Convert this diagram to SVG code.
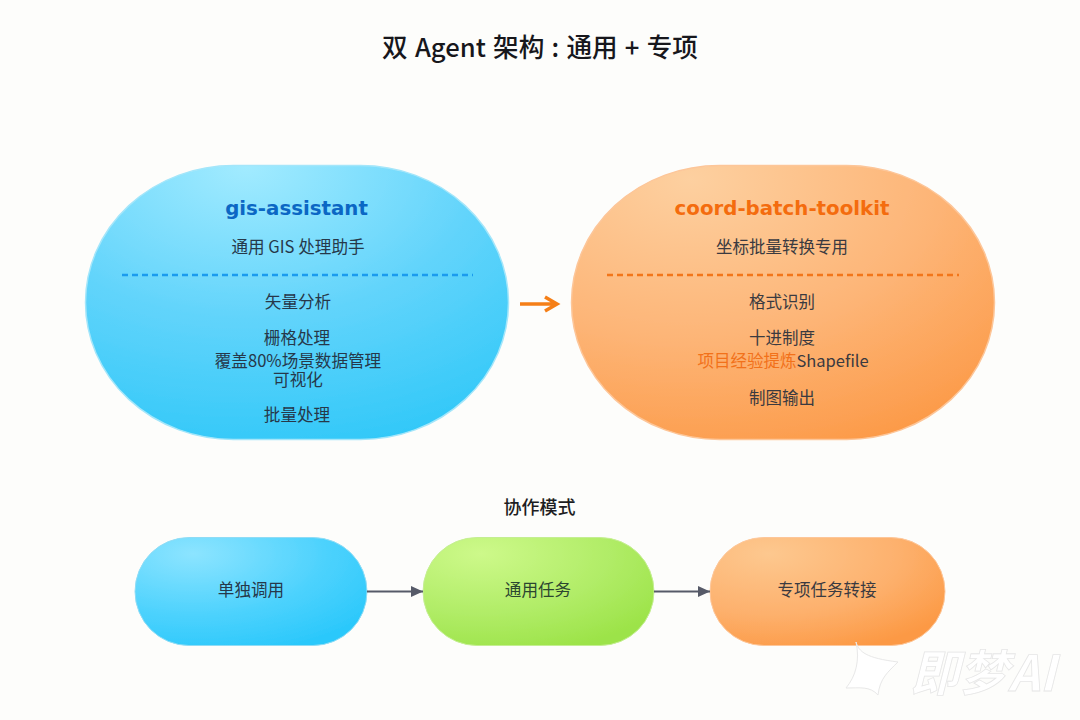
<svg xmlns="http://www.w3.org/2000/svg" width="1080" height="720" viewBox="0 0 1080 720">
<defs>
<radialGradient id="blue" gradientUnits="objectBoundingBox" cx="0.38" cy="0" r="1.1"><stop offset="0" stop-color="#a2ebff"/><stop offset="0.5" stop-color="#62d4fb"/><stop offset="1" stop-color="#2dc7f8"/></radialGradient>
<radialGradient id="orange" gradientUnits="objectBoundingBox" cx="0.28" cy="0.05" r="1.05"><stop offset="0" stop-color="#fdd0a0"/><stop offset="0.55" stop-color="#fdb577"/><stop offset="1" stop-color="#fc9a48"/></radialGradient>
<radialGradient id="blue2" gradientUnits="objectBoundingBox" cx="0.25" cy="0.15" r="0.95"><stop offset="0" stop-color="#8ce4ff"/><stop offset="0.6" stop-color="#4dd2fd"/><stop offset="1" stop-color="#2bc8fb"/></radialGradient>
<radialGradient id="green" gradientUnits="objectBoundingBox" cx="0.25" cy="0.15" r="0.95"><stop offset="0" stop-color="#cdf98a"/><stop offset="0.6" stop-color="#b0ec66"/><stop offset="1" stop-color="#9ce348"/></radialGradient>
<radialGradient id="orange2" gradientUnits="objectBoundingBox" cx="0.25" cy="0.15" r="0.95"><stop offset="0" stop-color="#fdc88f"/><stop offset="0.6" stop-color="#fdb06c"/><stop offset="1" stop-color="#fc9944"/></radialGradient>
<filter id="soft" x="-2%" y="-2%" width="104%" height="104%"><feGaussianBlur stdDeviation="0.7"/></filter>
<marker id="grey" markerUnits="userSpaceOnUse" markerWidth="12" markerHeight="12" refX="12" refY="6" orient="auto"><path d="M0 0.5L12 6L0 11.5Z" fill="#565a68"/></marker>
</defs>
<style>
text{font-family:"Noto Sans CJK SC","Noto Sans",sans-serif;text-anchor:middle}
.t{font-size:16.600px;fill:#26384a}
.o{font-size:16.500px;fill:#3a3a40}
.h{font-family:"DejaVu Sans","Noto Sans CJK SC",sans-serif;font-weight:700;font-size:19.800px}
</style>
<rect width="1080" height="720" fill="#fdfdfb"/>
<text x="540" y="57" font-size="25.600" font-weight="500" fill="#17171c" word-spacing="1.500">双 Agent 架构 : 通用 + 专项</text>
<g id="gis-assistant">
<rect x="85.500" y="165.500" width="423" height="274" rx="148" ry="137" fill="url(#blue)" stroke="#a4e6fa" stroke-width="1.500" filter="url(#soft)"/>
<text class="h" x="296.500" y="215" fill="#0b67c4">gis-assistant</text>
<text class="t" x="298" y="253">通用 GIS 处理助手</text>
<line x1="122" y1="275" x2="473" y2="275" stroke="#1b9bee" stroke-width="2.500" stroke-dasharray="6 4"/>
<text class="t" x="298" y="308">矢量分析</text>
<text class="t" x="297" y="344">栅格处理</text>
<text class="t" x="298" y="367">覆盖80%场景数据管理</text>
<text class="t" x="298" y="386">可视化</text>
<text class="t" x="297" y="421">批量处理</text>
</g>
<g id="coord-batch-toolkit">
<rect x="571.500" y="165.500" width="423" height="274" rx="148" ry="137" fill="url(#orange)" stroke="#fdc699" stroke-width="1.500" filter="url(#soft)"/>
<text class="h" x="782" y="215" fill="#f46c0e">coord-batch-toolkit</text>
<text class="o" x="782" y="253">坐标批量转换专用</text>
<line x1="607" y1="275" x2="959" y2="275" stroke="#f2761a" stroke-width="2.500" stroke-dasharray="6 4"/>
<text class="o" x="782" y="308">格式识别</text>
<text class="o" x="782" y="344">十进制度</text>
<text class="o" x="783" y="367"><tspan fill="#f2711a">项目经验提炼</tspan>Shapefile</text>
<text class="o" x="782" y="404">制图输出</text>
</g>
<text x="539.500" y="514" font-size="18" font-weight="500" fill="#1d1d22">协作模式</text>
<g id="solo">
<rect x="135" y="537.500" width="232" height="108" rx="54" fill="url(#blue2)" stroke="#8fdcf5" stroke-width="1" filter="url(#soft)"/>
<text class="t" x="251" y="596">单独调用</text>
</g>
<g id="general">
<rect x="423" y="537.500" width="231" height="108" rx="54" fill="url(#green)" stroke="#c4ee92" stroke-width="1" filter="url(#soft)"/>
<text class="t" x="538" y="596" style="fill:#2c4630">通用任务</text>
</g>
<g id="handoff">
<rect x="710" y="537.500" width="235" height="108" rx="54" fill="url(#orange2)" stroke="#fdc699" stroke-width="1" filter="url(#soft)"/>
<text class="o" x="827" y="596">专项任务转接</text>
</g>
<g id="connectors" fill="none">
<line x1="367" y1="591.500" x2="423" y2="591.500" stroke="#565a68" stroke-width="2" marker-end="url(#grey)"/>
<line x1="654" y1="591.500" x2="710" y2="591.500" stroke="#565a68" stroke-width="2" marker-end="url(#grey)"/>
<path d="M520 304H556M545 297L557 304L545 311" stroke="#f57f17" stroke-width="3.500"/>
</g>
<g id="watermark">
<path d="M856 642C859 652 866 658 898 662C888 672 880 678 878 695C870 686 860 688 846 688C856 676 860 660 856 642Z" fill="#fff" stroke="#e8e8e8" stroke-width="1"/>
<text x="983" y="691" font-size="49" font-style="italic" font-weight="700" fill="#ffffff" stroke="#e6e6e6" stroke-width="0.800">即梦AI</text>
</g>
</svg>
